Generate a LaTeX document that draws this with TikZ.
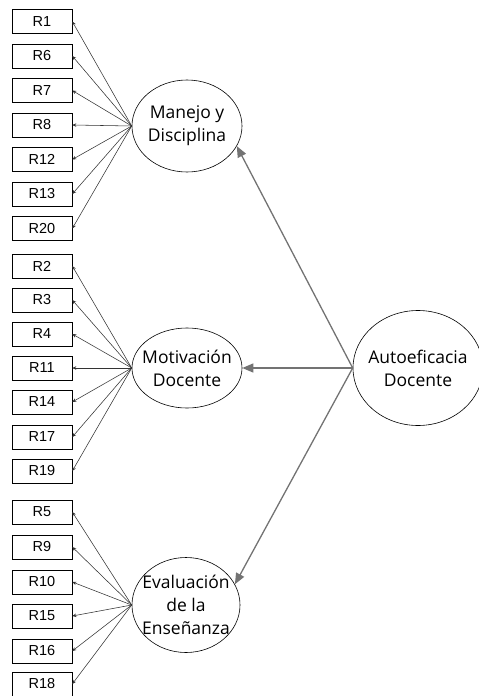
\documentclass[tikz,border=0pt]{standalone}
\usepackage{fontspec}
\setmainfont{Liberation Sans}
\newfontfamily\ellfont{Open Sans}
\usetikzlibrary{shapes}
\usetikzlibrary{arrows.meta}

\begin{document}
\begin{tikzpicture}[
    x=1pt, y=-1pt,
    font=\fontsize{14.5}{16}\selectfont
]
\tikzset{
    item/.style = {rectangle, draw=black, line width=0.6pt, minimum width=60pt, minimum height=24pt, inner sep=0pt},
    factor/.style = {ellipse, draw=black, line width=0.6pt, align=center, inner sep=-18pt, font=\ellfont\fontsize{17.5}{23}\selectfont},
    load/.style = {-{Stealth[length=4pt,width=3.5pt]}, draw=black!80, line width=0.55pt},
    reg/.style = {-{Triangle[length=11pt,width=9pt]}, draw=black!55, line width=1.3pt}
}
\useasboundingbox (0,0) rectangle (479,696);
% indicadores
\node[item] at (42,21.5) (r1) {R1};
\node[item] at (42,56) (r6) {R6};
\node[item] at (42,90.5) (r7) {R7};
\node[item] at (42,125) (r8) {R8};
\node[item] at (42,159.5) (r12) {R12};
\node[item] at (42,194) (r13) {R13};
\node[item] at (42,228.5) (r20) {R20};
\node[item] at (42,266) (r2) {R2};
\node[item] at (42,300) (r3) {R3};
\node[item] at (42,334) (r4) {R4};
\node[item] at (42,368) (r11) {R11};
\node[item] at (42,402) (r14) {R14};
\node[item] at (42,437) (r17) {R17};
\node[item] at (42,471) (r19) {R19};
\node[item] at (42,512) (r5) {R5};
\node[item] at (42,547) (r9) {R9};
\node[item] at (42,582) (r10) {R10};
\node[item] at (42,616) (r15) {R15};
\node[item] at (42,651) (r16) {R16};
\node[item] at (42,684) (r18) {R18};
% factores
\node[factor, minimum width=110pt, minimum height=92pt] at (187,126) (man) {Manejo y\\Disciplina};
\node[factor, minimum width=110pt, minimum height=80pt] at (187,368) (mot) {Motivación\\Docente};
\node[factor, minimum width=108pt, minimum height=95pt] at (186,605) (eva) {Evaluación\\de la\\Enseñanza};
\node[factor, minimum width=130pt, minimum height=115pt] at (418,368) (auto) {Autoeficacia\\Docente};
% cargas
\draw[load] (man.west) -- (r1.east);
\draw[load] (man.west) -- (r6.east);
\draw[load] (man.west) -- (r7.east);
\draw[load] (man.west) -- (r8.east);
\draw[load] (man.west) -- (r12.east);
\draw[load] (man.west) -- (r13.east);
\draw[load] (man.west) -- (r20.east);
\draw[load] (mot.west) -- (r2.east);
\draw[load] (mot.west) -- (r3.east);
\draw[load] (mot.west) -- (r4.east);
\draw[load] (mot.west) -- (r11.east);
\draw[load] (mot.west) -- (r14.east);
\draw[load] (mot.west) -- (r17.east);
\draw[load] (mot.west) -- (r19.east);
\draw[load] (eva.west) -- (r5.east);
\draw[load] (eva.west) -- (r9.east);
\draw[load] (eva.west) -- (r10.east);
\draw[load] (eva.west) -- (r15.east);
\draw[load] (eva.west) -- (r16.east);
\draw[load] (eva.west) -- (r18.east);
% segundo orden
\draw[reg] (auto.west) -- (man.-22);
\draw[reg] (auto.west) -- (mot.east);
\draw[reg] (auto.west) -- (eva.23);
\end{tikzpicture}
\end{document}
